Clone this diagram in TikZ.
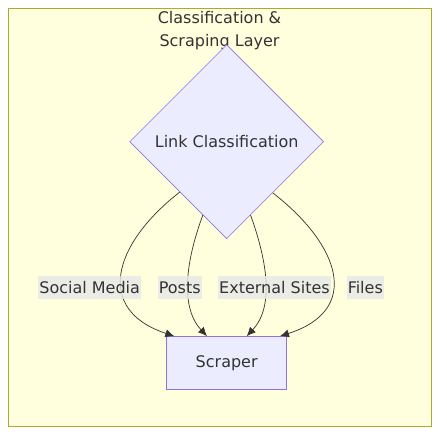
\documentclass[tikz,border=0pt]{standalone}
\usepackage{fontspec}
\setmainfont{DejaVu Sans}
\usetikzlibrary{shapes.geometric,arrows.meta}
\definecolor{clusterfill}{HTML}{FFFFDE}
\definecolor{clusterline}{HTML}{AAAA33}
\definecolor{nodefill}{HTML}{ECECFF}
\definecolor{nodeline}{HTML}{9370DB}
\definecolor{textgrey}{HTML}{333333}
\definecolor{labelfill}{HTML}{E8E8E8}
\tikzset{
  txt/.style={text=textgrey, font=\fontsize{16}{19}\selectfont},
  decision/.style={txt, diamond, aspect=1, minimum width=194pt, minimum height=194pt, inner sep=0pt, fill=nodefill, draw=nodeline, line width=0.6pt},
  process/.style={txt, rectangle, minimum width=120pt, minimum height=53.3pt, inner sep=0pt, fill=nodefill, draw=nodeline, line width=1pt},
  edgelabel/.style={txt, rectangle, inner xsep=1pt, inner ysep=0pt, minimum height=22.7pt, fill=labelfill, fill opacity=0.8, text opacity=1},
  flow/.style={draw=textgrey, line width=0.7pt, -{Latex[length=9pt,width=8pt]}}
}
\begin{document}
\begin{tikzpicture}[x=1pt, y=-1pt]
            \useasboundingbox (0,0) rectangle (447,442);
            % Cluster
            \draw[fill=clusterfill, draw=clusterline, line width=1pt] (8,8) rectangle (431,426.7);
            \node[txt, align=center, font=\fontsize{16}{22.5}\selectfont] (title) at (219.5,30.7) {Classification \&\\Scraping Layer};

            % Nodes
            \node[decision] (link) at (226.7,141.7) {Link Classification};
            \node[process] (scraper) at (226.7,363.3) {Scraper};

            % Edges
            \draw[flow] (link.227.5) .. controls (112,245) and (95,310) .. ([xshift=-52.4pt]scraper.north);
            \draw[flow] (link.252) .. controls (188,255) and (178,305) .. ([xshift=-19.7pt]scraper.north);
            \draw[flow] (link.288) .. controls (265,255) and (276,305) .. ([xshift=20pt]scraper.north);
            \draw[flow] (link.312.5) .. controls (340,245) and (362,310) .. ([xshift=53.3pt]scraper.north);

            % Edge labels
            \node[edgelabel] (social) at (89.7,287.7) {Social Media};
            \node[edgelabel] (posts) at (179.7,287.7) {Posts};
            \node[edgelabel] (external) at (274.5,287.7) {External Sites};
            \node[edgelabel] (files) at (365.3,287.7) {Files};
        \end{tikzpicture}
\end{document}
